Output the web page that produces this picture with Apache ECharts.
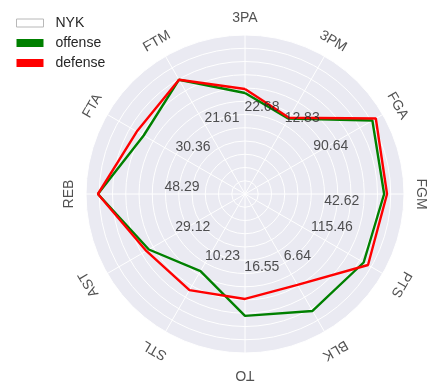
<!DOCTYPE html>
<html>
<head>
<meta charset="utf-8">
<style>html,body{margin:0;padding:0;background:#fff;}#c{width:437px;height:388px;}</style>
<script src="https://cdn.jsdelivr.net/npm/echarts@6/dist/echarts.min.js"></script>
</head>
<body>
<div id="c"></div>
<script>
// ---- data ----
const categories = ['3PA','3PM','FGA','FGM','PTS','BLK','TO','STL','AST','REB','FTA','FTM'];
const offense = [7.62, 6.57, 11.1, 10.5, 10.34, 10.19, 9.2, 6.72, 8.38, 11.1, 8.83, 9.96];
const defense = [7.92, 6.64, 11.4, 10.72, 10.72, 7.92, 7.92, 8.38, 8.6, 11.1, 9.43, 9.96];
const tickLabels = ['22.68','12.83','90.64','42.62','115.46','6.64','16.55','10.23','29.12','48.29','30.36','21.61'];
const legendNames = ['NYK','offense','defense'];

// ---- layout (placement of the per-axis tick labels: [radius, angle]) ----
const tickPlace = [[6.69,11],[7.17,37],[7.4,61],[7.32,94],[7.02,111],[6.15,140],[5.66,167],[4.98,200],[4.65,238],[4.78,276],[5.28,312],[5.96,343]];

const step = 360 / categories.length;
const TXT = '#262626';
const FONT = "'Liberation Sans', Arial, sans-serif";

function closed(arr){
  const d = arr.map((v,i)=>[v, i*step]);
  d.push([arr[0], 360]);
  return d;
}

const hidden = {axisLine:{show:false}, axisTick:{show:false}, axisLabel:{show:false}};
const chart = echarts.init(document.getElementById('c'), null, {renderer:'canvas'});
chart.setOption({
  animation:false,
  backgroundColor:'#ffffff',
  textStyle:{fontFamily:FONT},
  legend:{
    orient:'vertical', left:16, top:16, padding:0, itemWidth:27, itemHeight:8, itemGap:6,
    icon:'rect',
    textStyle:{color:TXT, fontSize:14, fontFamily:FONT, padding:[0,0,0,7]},
    data:[
      {name:legendNames[0], itemStyle:{color:'#ffffff', borderColor:'#b8b8b8', borderWidth:1}},
      {name:legendNames[1], itemStyle:{color:'#008000'}},
      {name:legendNames[2], itemStyle:{color:'#ff0000'}}
    ]
  },
  polar:[{center:[245,194], radius:159},{center:[245,194], radius:159}],
  angleAxis:[
    Object.assign({polarIndex:0, z:0, type:'value', min:0, max:360, interval:step, startAngle:90, clockwise:true,
      splitLine:{show:false}}, hidden),
    Object.assign({polarIndex:1, z:1, type:'value', min:0, max:360, interval:step, startAngle:90, clockwise:true,
      splitLine:{show:true, lineStyle:{color:'#ffffff', width:1}}}, hidden)
  ],
  radiusAxis:[
    Object.assign({polarIndex:0, z:0, type:'value', min:0, max:12, interval:1,
      splitLine:{show:false}, splitArea:{show:true, areaStyle:{color:['#EAEAF2']}}}, hidden),
    Object.assign({polarIndex:1, z:1, type:'value', min:0, max:12, interval:1,
      splitLine:{show:true, lineStyle:{color:'#ffffff', width:1}}, splitArea:{show:false}}, hidden)
  ],
  series:[
    {name:legendNames[0], type:'line', coordinateSystem:'polar', polarIndex:1, data:[], itemStyle:{color:'#ffffff'}},
    {name:legendNames[1], type:'line', coordinateSystem:'polar', polarIndex:1, data:closed(offense), symbol:'none',
     lineStyle:{color:'#008000', width:2.4}, itemStyle:{color:'#008000'}, z:3},
    {name:legendNames[2], type:'line', coordinateSystem:'polar', polarIndex:1, data:closed(defense), symbol:'none',
     lineStyle:{color:'#ff0000', width:2.4}, itemStyle:{color:'#ff0000'}, z:4},
    {type:'scatter', coordinateSystem:'polar', polarIndex:1, symbolSize:0, clip:false, silent:true, z:5,
     data: tickLabels.map((t,i)=>({value:tickPlace[i], name:t})),
     label:{show:true, position:'inside', formatter:'{b}', color:TXT, fontSize:14, fontFamily:FONT}},
    {type:'scatter', coordinateSystem:'polar', polarIndex:1, symbolSize:0, clip:false, silent:true, z:5,
     data: categories.map((c,i)=>{
       const a = i*step;
       const lower = Math.cos(a*Math.PI/180) < -0.1;
       return {value:[lower?13.62:13.3, a], name:c, label:{rotate:-a}};
     }),
     label:{show:true, position:'inside', formatter:'{b}', color:TXT, fontSize:14, fontFamily:FONT}}
  ]
});
</script>
</body>
</html>
